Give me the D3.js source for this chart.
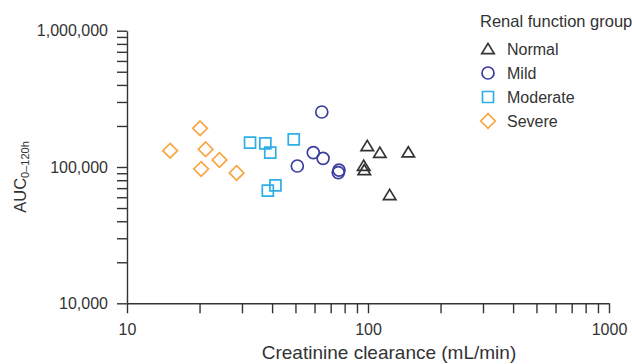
<!DOCTYPE html>
<html>
<head>
<meta charset="utf-8">
<script src="https://cdn.jsdelivr.net/npm/d3@7/dist/d3.min.js"></script>
<style>
  html, body { margin: 0; padding: 0; background: #fff; }
  svg { display: block; font-family: "Liberation Sans", Arial, sans-serif; }
  .tick text { fill: #333; font-size: 16px; }
  .tick line, .domain { stroke: #333; stroke-width: 1.4; }
  .axis-title { fill: #333; font-size: 19px; }
  .legend-title { fill: #333; font-size: 16.5px; }
  .legend-label { fill: #333; font-size: 16px; }
  .marker { fill: none; stroke-width: 1.7; }
</style>
</head>
<body>
<div id="chart"></div>
<script>
const GROUPS = ["Normal", "Mild", "Moderate", "Severe"];
const GROUP_COLORS = ["#333333", "#3b3d9e", "#2eaee6", "#f8a540"];

const normalCrCl = [99.3, 112, 147, 96, 96.5, 123];
const normalAuc = [142600, 127300, 128200, 102200, 95000, 62300];

const mildCrCl = [64.3, 59.3, 65.1, 50.9, 75.8, 75.3];
const mildAuc = [253200, 127300, 115800, 101700, 95000, 90800];

const moderateCrCl = [32.4, 37.5, 39.3, 49.2, 38.4, 41.3];
const moderateAuc = [150800, 149300, 127300, 159700, 67000, 73400];

const severeCrCl = [15.1, 20.1, 21.2, 24.2, 20.3, 28.5];
const severeAuc = [131700, 192300, 134900, 112600, 96700, 90400];

const xTickLabels = [10, 100, 1000];
const yTickLabels = [10000, 100000, 1000000];

function circlePath(r) {
  return `M${r},0A${r},${r} 0 1,1 ${-r},0A${r},${r} 0 1,1 ${r},0Z`;
}

function symbolFor(group) {
  if (group === "Normal") return "M0,-5.6L6.2,4.6L-6.2,4.6Z";
  if (group === "Mild") return circlePath(6);
  if (group === "Moderate") return "M-5.5,-5.5H5.5V5.5H-5.5Z";
  return "M0,-7.3L7.3,0L0,7.3L-7.3,0Z";
}

function buildPoints() {
  const series = [
    ["Normal", normalCrCl, normalAuc],
    ["Mild", mildCrCl, mildAuc],
    ["Moderate", moderateCrCl, moderateAuc],
    ["Severe", severeCrCl, severeAuc],
  ];
  return series.flatMap(([group, xs, ys]) => xs.map((crcl, i) => ({ group, crcl, auc: ys[i] })));
}

function renderChart() {
  const width = 632;
  const height = 364;
  const margin = { top: 30.7, right: 23, bottom: 60.7, left: 127 };

  const svg = d3.select("#chart").append("svg").attr("width", width).attr("height", height);

  const x = d3.scaleLog().domain([10, 1000]).range([margin.left, width - margin.right]);
  const y = d3.scaleLog().domain([10000, 1000000]).range([height - margin.bottom, margin.top]);
  const color = d3.scaleOrdinal().domain(GROUPS).range(GROUP_COLORS);

  const fmtY = d3.format(",");

  svg
    .append("g")
    .attr("transform", `translate(0, ${height - margin.bottom})`)
    .call(
      d3.axisBottom(x)
        .tickSize(10)
        .tickSizeOuter(0)
        .tickPadding(10)
        .tickFormat((d) => (xTickLabels.includes(Math.round(d)) ? String(Math.round(d)) : "")),
    );

  svg
    .append("g")
    .attr("transform", `translate(${margin.left}, 0)`)
    .call(
      d3.axisLeft(y)
        .tickSize(10)
        .tickSizeOuter(0)
        .tickPadding(9)
        .tickFormat((d) => (yTickLabels.includes(Math.round(d)) ? fmtY(Math.round(d)) : "")),
    );

  svg
    .append("text")
    .attr("class", "axis-title")
    .attr("x", 389)
    .attr("y", 359)
    .attr("text-anchor", "middle")
    .text("Creatinine clearance (mL/min)");

  const yTitle = svg
    .append("text")
    .attr("class", "axis-title")
    .attr("transform", "translate(26, 177) rotate(-90)")
    .attr("text-anchor", "middle")
    .style("font-size", "16.5px");
  yTitle.append("tspan").text("AUC");
  yTitle.append("tspan").attr("dy", "0.3em").style("font-size", "11px").text("0\u2013120h");

  // points
  svg
    .append("g")
    .selectAll("path")
    .data(buildPoints())
    .join("path")
    .attr("class", "marker")
    .attr("transform", (d) => `translate(${x(d.crcl)}, ${y(d.auc)})`)
    .attr("d", (d) => symbolFor(d.group))
    .attr("stroke", (d) => color(d.group))
    .attr("stroke-width", (d) => (d.group === "Normal" ? 2 : 1.7));

  // legend
  const legend = svg.append("g").attr("transform", "translate(480, 0)");
  legend.append("text").attr("class", "legend-title").attr("x", 0).attr("y", 27).text("Renal function group");

  const rows = legend
    .selectAll("g.row")
    .data(GROUPS)
    .join("g")
    .attr("class", "row")
    .attr("transform", (d, i) => `translate(0, ${49 + i * 24})`);

  rows
    .append("path")
    .attr("class", "marker")
    .attr("transform", "translate(8, 0)")
    .attr("d", (d) => symbolFor(d))
    .attr("stroke", (d) => color(d))
    .attr("stroke-width", (d) => (d === "Normal" ? 2 : 1.7));

  rows
    .append("text")
    .attr("class", "legend-label")
    .attr("x", 27)
    .attr("y", 5.5)
    .text((d) => d);
}

renderChart();
</script>
</body>
</html>
